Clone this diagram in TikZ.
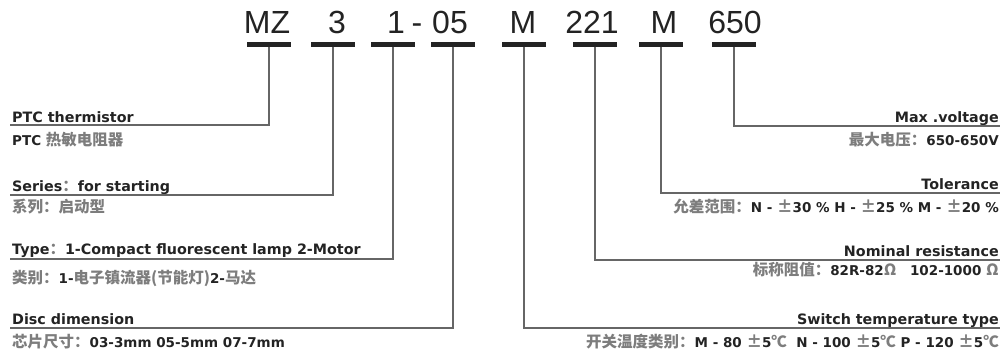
\documentclass[tikz,border=0pt]{standalone}
\usepackage{fontspec}
\setmainfont{Liberation Sans}
\newfontfamily\labelfont{DejaVu Sans}
\newfontfamily\cjk{Noto Sans CJK SC}
\usepackage{tikz}
\usetikzlibrary{positioning}
\definecolor{zhgray}{RGB}{125,125,125}
\definecolor{ink}{RGB}{35,35,35}
\newcommand\zh[1]{{\cjk\fontsize{15.5}{16}\selectfont\color{zhgray}#1}}
\tikzset{
  % code letters on top
  codepart/.style={
    font=\fontsize{32}{32}\selectfont,
    text=ink,
    anchor=base,
    inner sep=0pt},
  % thick bar under each part
  codebar/.style={
    rectangle,
    fill=ink,
    minimum width=44pt,
    minimum height=5pt,
    inner sep=0pt},
  % lead lines
  lead/.style={
    draw=black!60,
    line width=1.3pt},
  enlabel/.style={
    font=\labelfont\bfseries\fontsize{14.3}{15}\selectfont,
    text=ink,
    inner sep=0pt},
  zhlabel/.style={
    font=\labelfont\bfseries\fontsize{13.5}{15}\selectfont,
    text=ink,
    inner sep=0pt}
}

\begin{document}
\begin{tikzpicture}[x=1pt,y=-1pt]
  \useasboundingbox (0,0) rectangle (1008,356);
  % code
  \node[codepart] (mz) at (267,33) {MZ};
  \node[codepart] (ser) at (337,33) {3};
  \node[codepart] (typ) at (396,33) {1};
  \node[codepart] (dash) at (417,33) {-};
  \node[codepart] (dia) at (450,33) {05};
  \node[codepart] (sw) at (523,33) {M};
  \node[codepart] (res) at (592,33) {221};
  \node[codepart] (tol) at (664,33) {M};
  \node[codepart] (vol) at (735,33) {650};
  % bars
  \node[codebar] (bmz) at (269,44) {};
  \node[codebar] (bser) at (333,44) {};
  \node[codebar] (btyp) at (393,44) {};
  \node[codebar] (bdia) at (453,44) {};
  \node[codebar] (bsw) at (524,44) {};
  \node[codebar] (bres) at (595,44) {};
  \node[codebar] (btol) at (661,44) {};
  \node[codebar] (bvol) at (734,44) {};
  % left labels
  \node[enlabel,anchor=base west] (ptc) at (12,122) {PTC thermistor};
  \node[zhlabel,anchor=base west] (ptczh) at (12,145) {PTC \zh{热敏电阻器}};
  \node[enlabel,anchor=base west] (series) at (12,191) {Series\zh{：}for starting};
  \node[zhlabel,anchor=base west] (serieszh) at (12,212) {\zh{系列：启动型}};
  \node[enlabel,anchor=base west] (type) at (12,254) {Type\zh{：}1-Compact fluorescent lamp 2-Motor};
  \node[zhlabel,anchor=base west] (typezh) at (12,283) {\zh{类别：}1-\zh{电子镇流器(节能灯)}2-\zh{马达}};
  \node[enlabel,anchor=base west] (disc) at (12,324) {Disc dimension};
  \node[zhlabel,anchor=base west] (disczh) at (12,347) {\zh{芯片尺寸：}03-3mm 05-5mm 07-7mm};
  % right labels
  \node[enlabel,anchor=base east] (maxv) at (999,122) {Max .voltage};
  \node[zhlabel,anchor=base east] (maxvzh) at (999,145) {\zh{最大电压：}650-650V};
  \node[enlabel,anchor=base east] (tole) at (999,189) {Tolerance};
  \node[zhlabel,anchor=base east] (tolezh) at (999,212) {\zh{允差范围：}N - \zh{±}30 \% H - \zh{±}25 \% M - \zh{±}20 \%};
  \node[enlabel,anchor=base east] (nom) at (999,256) {Nominal resistance};
  \node[zhlabel,anchor=base east] (nomzh) at (999,275) {\zh{标称阻值：}82R-82\zh{Ω}\quad 102-1000 \zh{Ω}};
  \node[enlabel,anchor=base east] (swt) at (999,324) {Switch temperature type};
  \node[zhlabel,anchor=base east] (swtzh) at (999,347) {\zh{开关温度类别：}M - 80 \zh{±}5\zh{℃}\ \ N - 100 \zh{±}5\zh{℃} P - 120 \zh{±}5\zh{℃}};
  % line ends
  \coordinate (lptc) at (10,125);
  \coordinate (lser) at (10,195);
  \coordinate (ltyp) at (10,259);
  \coordinate (ldia) at (10,328);
  \coordinate (rvol) at (1000,126);
  \coordinate (rtol) at (1000,193);
  \coordinate (rres) at (1000,260);
  \coordinate (rsw) at (1000,328);
  % leads
  \draw[lead] (bmz.south) |- (lptc);
  \draw[lead] (bser.south) |- (lser);
  \draw[lead] (btyp.south) |- (ltyp);
  \draw[lead] (bdia.south) |- (ldia);
  \draw[lead] (bvol.south) |- (rvol);
  \draw[lead] (btol.south) |- (rtol);
  \draw[lead] (bres.south) |- (rres);
  \draw[lead] (bsw.south) |- (rsw);
\end{tikzpicture}
\end{document}
